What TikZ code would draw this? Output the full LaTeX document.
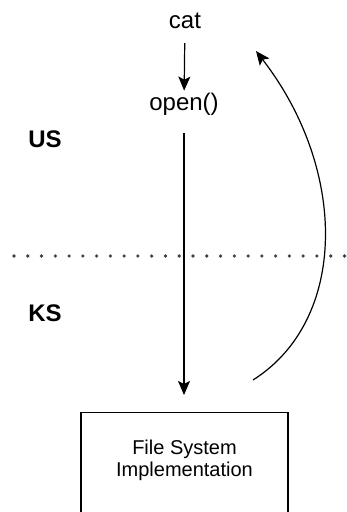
\documentclass[tikz,border=0pt]{standalone}
\usepackage{fontspec}
\setmainfont{Liberation Sans}
\usetikzlibrary{arrows.meta}
\tikzset{
    line/.style={
        line width=1.2pt
    },
    arrow/.style={
        line,
        ->,
        > = {
            Stealth[length=14pt, width=12pt, inset=3pt]
        }
    },
    label/.style={
        inner sep=0pt,
        font=\fontsize{24}{26}\selectfont
    },
    space/.style={
        inner sep=0pt,
        font=\fontsize{24}{26}\selectfont\bfseries
    },
    boundary/.style={
        line width=3.6pt,
        line cap=round,
        dash pattern=on 0pt off 13.77pt,
        draw=black!75
    }
}

\begin{document}
\begin{tikzpicture}[x=1pt, y=-1pt]
    \useasboundingbox (0, 0) rectangle (347, 512);
    \clip (0, 0) rectangle (347, 512);
    % User space / kernel space:
    \node [space] (us) at (45, 139) {US};
    \node [space] (ks) at (45, 313) {KS};
    \draw [boundary] (14, 256) -- (347, 256);
    % Call chain:
    \node [label] (cat) at (185, 21) {cat};
    \node [label] (open) at (184, 104) {open()};
    \node [draw, line, minimum width=207pt, minimum height=120pt, anchor=north] (fs) at (184.5, 412) {};
    \node [align=center, font=\fontsize{20}{22}\selectfont] (fstext) at (184.5, 460) {File System\\Implementation};
    \draw [arrow, shorten <=14pt, shorten >=2pt] (cat) -- (open);
    \draw [arrow, shorten <=18pt, shorten >=17pt] (open) -- (open |- fs.north);
    % Return path:
    \coordinate (ret) at (253, 380);
    \coordinate (back) at (256, 51);
    \draw [arrow] (ret) .. controls (348, 320) and (348, 170) .. (back);
\end{tikzpicture}
\end{document}
